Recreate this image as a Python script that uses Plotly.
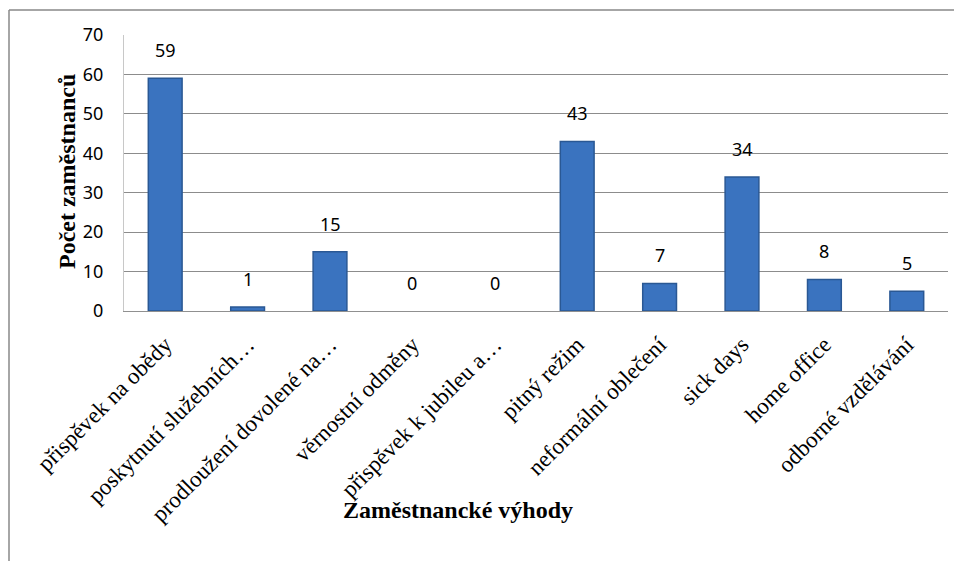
import plotly.graph_objects as go

# Data
kategorie = ['přispěvek na obědy', 'poskytnutí služebních…', 'prodloužení dovolené na…',
             'věrnostní odměny', 'přispěvek k jubileu a…', 'pitný režim',
             'neformální oblečení', 'sick days', 'home office', 'odborné vzdělávání']
pocet = [59, 1, 15, 0, 0, 43, 7, 34, 8, 5]
y_ticks = [0, 10, 20, 30, 40, 50, 60, 70]

# page offset 8px (body margin)
OFF = 8
W, H = 946, 553
L, R, T, B = 116, 6, 27, 250
pw, ph = W - L - R, H - T - B

def px_x(x):
    return (x - OFF - L) / pw

def px_y(y):
    return (H - B - (y - OFF)) / ph

fig = go.Figure()

fig.add_trace(go.Bar(x=kategorie, y=pocet,
                     marker=dict(color='#3A73BF',
                                 line=dict(color='#2A5894',
                                           width=[1.5 if v > 0 else 0 for v in pocet])),
                     hoverinfo='x+y'))

# popisky hodnot nad sloupci
for k, v in zip(kategorie, pocet):
    fig.add_annotation(x=k, y=v, text=str(v), showarrow=False,
                       yanchor='bottom', yshift=14,
                       font=dict(family='Noto Sans', size=18, color='#000000'))

fig.update_layout(width=W, height=H,
                  margin=dict(l=L, r=R, t=T, b=B, autoexpand=False),
                  paper_bgcolor='white', plot_bgcolor='white',
                  bargap=0.59, showlegend=False,
                  font=dict(family='Liberation Serif', color='#000000'))

fig.update_xaxes(tickangle=-45, tickfont=dict(family='Liberation Serif', size=23),
                 showline=True, linecolor='#909090', linewidth=1,
                 ticks='', showgrid=False, automargin=False, ticklabelstandoff=10)
fig.update_yaxes(range=[0, 70], tickvals=y_ticks,
                 tickfont=dict(family='Noto Sans', size=18),
                 showgrid=True, gridcolor='#8C8C8C', gridwidth=1,
                 showline=True, linecolor='#C8C8C8', linewidth=1,
                 zeroline=False, ticks='', automargin=False, ticklabelstandoff=16)

# Osy - popisky
fig.add_annotation(text='<b>Počet zaměstnanců</b>', xref='paper', yref='paper',
                   x=px_x(52), y=px_y(172), textangle=-90, showarrow=False,
                   font=dict(family='Liberation Serif', size=24))
fig.add_annotation(text='<b>Zaměstnancké výhody</b>', xref='paper', yref='paper',
                   x=px_x(458), y=px_y(525), showarrow=False,
                   font=dict(family='Liberation Serif', size=24))

# Rámeček grafu (jen horní a levá hrana je vidět)
ramecek = dict(color='#888888', width=1.5)
fig.add_shape(type='line', xref='paper', yref='paper',
              x0=px_x(9), x1=px_x(1000), y0=px_y(10), y1=px_y(10), line=ramecek)
fig.add_shape(type='line', xref='paper', yref='paper',
              x0=px_x(9), x1=px_x(9), y0=px_y(10), y1=px_y(640), line=ramecek)

fig.write_html("out.html")
